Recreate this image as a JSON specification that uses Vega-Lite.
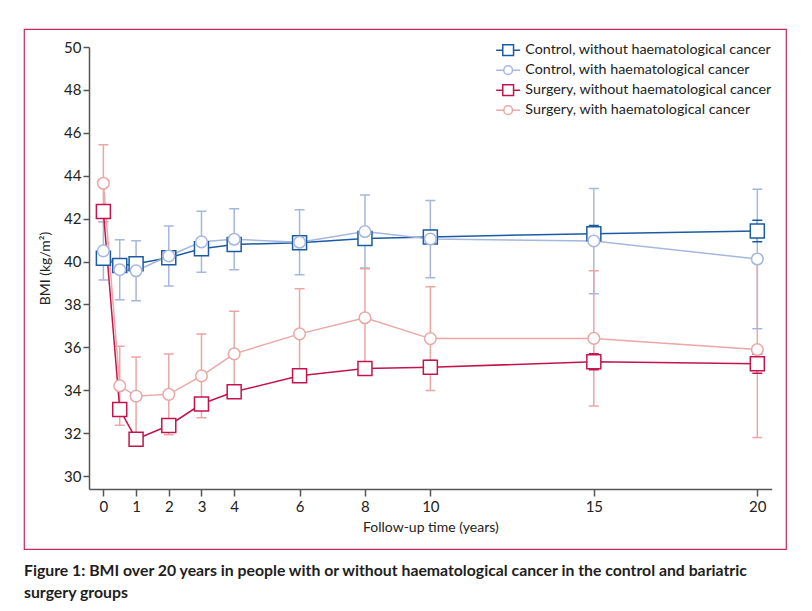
{
  "$schema": "https://vega.github.io/schema/vega-lite/v6.json",
  "autosize": "none",
  "padding": {"left": 24, "top": 29, "right": 26, "bottom": 62},
  "width": 762,
  "height": 520,
  "title": {
    "text": ["Figure 1: BMI over 20 years in people with or without haematological cancer in the control and bariatric", "surgery groups"],
    "orient": "bottom",
    "anchor": "start",
    "frame": "group",
    "offset": 15,
    "font": "Lato",
    "fontSize": 15.8,
    "fontWeight": "bold",
    "color": "#1e1e1e",
    "lineHeight": 22
  },
  "data": {
    "values": [
      {"series": "Control, without haematological cancer", "t": 0, "bmi": 40.15, "lo": 39.95, "hi": 40.35},
      {"series": "Control, without haematological cancer", "t": 0.5, "bmi": 39.82, "lo": 39.62, "hi": 40.02},
      {"series": "Control, without haematological cancer", "t": 1, "bmi": 39.9, "lo": 39.7, "hi": 40.1},
      {"series": "Control, without haematological cancer", "t": 2, "bmi": 40.18, "lo": 39.98, "hi": 40.38},
      {"series": "Control, without haematological cancer", "t": 3, "bmi": 40.6, "lo": 40.35, "hi": 40.85},
      {"series": "Control, without haematological cancer", "t": 4, "bmi": 40.8, "lo": 40.55, "hi": 41.05},
      {"series": "Control, without haematological cancer", "t": 6, "bmi": 40.88, "lo": 40.63, "hi": 41.13},
      {"series": "Control, without haematological cancer", "t": 8, "bmi": 41.08, "lo": 40.78, "hi": 41.38},
      {"series": "Control, without haematological cancer", "t": 10, "bmi": 41.15, "lo": 40.85, "hi": 41.45},
      {"series": "Control, without haematological cancer", "t": 15, "bmi": 41.3, "lo": 40.92, "hi": 41.68},
      {"series": "Control, without haematological cancer", "t": 20, "bmi": 41.42, "lo": 40.92, "hi": 41.92},
      {"series": "Control, with haematological cancer", "t": 0, "bmi": 40.5, "lo": 39.14, "hi": 41.86},
      {"series": "Control, with haematological cancer", "t": 0.5, "bmi": 39.62, "lo": 38.22, "hi": 41.02},
      {"series": "Control, with haematological cancer", "t": 1, "bmi": 39.57, "lo": 38.17, "hi": 40.97},
      {"series": "Control, with haematological cancer", "t": 2, "bmi": 40.26, "lo": 38.86, "hi": 41.66},
      {"series": "Control, with haematological cancer", "t": 3, "bmi": 40.92, "lo": 39.5, "hi": 42.34},
      {"series": "Control, with haematological cancer", "t": 4, "bmi": 41.04, "lo": 39.62, "hi": 42.46},
      {"series": "Control, with haematological cancer", "t": 6, "bmi": 40.9, "lo": 39.38, "hi": 42.42},
      {"series": "Control, with haematological cancer", "t": 8, "bmi": 41.4, "lo": 39.7, "hi": 43.1},
      {"series": "Control, with haematological cancer", "t": 10, "bmi": 41.05, "lo": 39.25, "hi": 42.85},
      {"series": "Control, with haematological cancer", "t": 15, "bmi": 40.96, "lo": 38.5, "hi": 43.4},
      {"series": "Control, with haematological cancer", "t": 20, "bmi": 40.12, "lo": 36.87, "hi": 43.37},
      {"series": "Surgery, without haematological cancer", "t": 0, "bmi": 42.33, "lo": 42.08, "hi": 42.58},
      {"series": "Surgery, without haematological cancer", "t": 0.5, "bmi": 33.11, "lo": 32.86, "hi": 33.36},
      {"series": "Surgery, without haematological cancer", "t": 1, "bmi": 31.72, "lo": 31.5, "hi": 31.94},
      {"series": "Surgery, without haematological cancer", "t": 2, "bmi": 32.36, "lo": 32.1, "hi": 32.62},
      {"series": "Surgery, without haematological cancer", "t": 3, "bmi": 33.36, "lo": 33.1, "hi": 33.62},
      {"series": "Surgery, without haematological cancer", "t": 4, "bmi": 33.93, "lo": 33.66, "hi": 34.2},
      {"series": "Surgery, without haematological cancer", "t": 6, "bmi": 34.68, "lo": 34.4, "hi": 34.96},
      {"series": "Surgery, without haematological cancer", "t": 8, "bmi": 35.02, "lo": 34.72, "hi": 35.32},
      {"series": "Surgery, without haematological cancer", "t": 10, "bmi": 35.07, "lo": 34.75, "hi": 35.39},
      {"series": "Surgery, without haematological cancer", "t": 15, "bmi": 35.33, "lo": 34.96, "hi": 35.7},
      {"series": "Surgery, without haematological cancer", "t": 20, "bmi": 35.24, "lo": 34.79, "hi": 35.69},
      {"series": "Surgery, with haematological cancer", "t": 0, "bmi": 43.65, "lo": 41.85, "hi": 45.45},
      {"series": "Surgery, with haematological cancer", "t": 0.5, "bmi": 34.21, "lo": 32.37, "hi": 36.05},
      {"series": "Surgery, with haematological cancer", "t": 1, "bmi": 33.73, "lo": 31.91, "hi": 35.55},
      {"series": "Surgery, with haematological cancer", "t": 2, "bmi": 33.81, "lo": 31.93, "hi": 35.69},
      {"series": "Surgery, with haematological cancer", "t": 3, "bmi": 34.67, "lo": 32.72, "hi": 36.62},
      {"series": "Surgery, with haematological cancer", "t": 4, "bmi": 35.7, "lo": 33.72, "hi": 37.68},
      {"series": "Surgery, with haematological cancer", "t": 6, "bmi": 36.63, "lo": 34.53, "hi": 38.73},
      {"series": "Surgery, with haematological cancer", "t": 8, "bmi": 37.38, "lo": 35.1, "hi": 39.66},
      {"series": "Surgery, with haematological cancer", "t": 10, "bmi": 36.41, "lo": 33.99, "hi": 38.83},
      {"series": "Surgery, with haematological cancer", "t": 15, "bmi": 36.42, "lo": 33.27, "hi": 39.57},
      {"series": "Surgery, with haematological cancer", "t": 20, "bmi": 35.9, "lo": 31.8, "hi": 40.0}
    ]
  },
  "encoding": {
    "x": {
      "field": "t",
      "type": "quantitative",
      "title": "Follow-up time (years)",
      "scale": {"domain": [-0.44, 20.44], "range": [65, 747.7], "nice": false, "zero": false},
      "axis": {"values": [0, 1, 2, 3, 4, 6, 8, 10, 15, 20], "offset": -60, "titlePadding": 6}
    },
    "y": {
      "field": "bmi",
      "type": "quantitative",
      "title": "BMI (kg/m²)",
      "scale": {"domain": [29.4, 50], "range": [460, 18], "nice": false, "zero": false},
      "axis": {"values": [30, 32, 34, 36, 38, 40, 42, 44, 46, 48, 50], "offset": -65, "titlePadding": 11}
    },
    "color": {
      "field": "series",
      "type": "nominal",
      "scale": {
        "domain": ["Control, without haematological cancer", "Control, with haematological cancer", "Surgery, without haematological cancer", "Surgery, with haematological cancer"],
        "range": ["#1b5ba3", "#a6b7de", "#c3154c", "#eaa7a5"]
      },
      "legend": {
        "orient": "none",
        "legendX": 477,
        "legendY": 14,
        "title": null,
        "padding": 0,
        "rowPadding": 3,
        "symbolSize": 144,
        "symbolStrokeWidth": 1.5,
        "symbolFillColor": "white",
        "symbolOpacity": 1,
        "labelOffset": 10,
        "labelFontSize": 14.3,
        "labelFont": "Lato",
        "labelColor": "#222222",
        "labelLimit": 400
      }
    }
  },
  "layer": [
    {
      "mark": {"type": "point", "filled": false, "fill": "white", "opacity": 0, "strokeWidth": 1.5},
      "encoding": {
        "shape": {
          "field": "series",
          "type": "nominal",
          "scale": {
            "domain": ["Control, without haematological cancer", "Control, with haematological cancer", "Surgery, without haematological cancer", "Surgery, with haematological cancer"],
            "range": [
              "M-2,0H-0.9M0.9,0H2M-0.9,-0.9H0.9V0.9H-0.9Z",
              "M-2,0H-0.72M0.72,0H2M0.72,0A0.72,0.72,0,1,1,-0.72,0A0.72,0.72,0,1,1,0.72,0Z",
              "M-2,0H-0.9M0.9,0H2M-0.9,-0.9H0.9V0.9H-0.9Z",
              "M-2,0H-0.72M0.72,0H2M0.72,0A0.72,0.72,0,1,1,-0.72,0A0.72,0.72,0,1,1,0.72,0Z"
            ]
          }
        }
      }
    },
    {
      "mark": {"type": "rule", "strokeWidth": 1.5},
      "encoding": {
        "y": {"field": "lo", "type": "quantitative"},
        "y2": {"field": "hi"}
      }
    },
    {
      "mark": {"type": "tick", "orient": "horizontal", "size": 10, "thickness": 0, "filled": false, "strokeWidth": 1.5, "opacity": 1},
      "encoding": {
        "y": {"field": "lo", "type": "quantitative"}
      }
    },
    {
      "mark": {"type": "tick", "orient": "horizontal", "size": 10, "thickness": 0, "filled": false, "strokeWidth": 1.5, "opacity": 1},
      "encoding": {
        "y": {"field": "hi", "type": "quantitative"}
      }
    },
    {
      "mark": {"type": "line", "strokeWidth": 1.5},
      "encoding": {}
    },
    {
      "transform": [{"filter": "test(/without/, datum.series)"}],
      "mark": {"type": "point", "shape": "square", "size": 196, "filled": false, "fill": "white", "opacity": 1, "strokeWidth": 1.5},
      "encoding": {}
    },
    {
      "transform": [{"filter": "!test(/without/, datum.series)"}],
      "mark": {"type": "point", "shape": "circle", "size": 135, "filled": false, "fill": "white", "opacity": 1, "strokeWidth": 1.5},
      "encoding": {}
    }
  ],
  "config": {
    "view": {"stroke": "#c82a5c", "strokeWidth": 1.2},
    "font": "Lato",
    "axis": {
      "grid": false,
      "domainColor": "#555555",
      "domainWidth": 1.5,
      "tickColor": "#555555",
      "tickWidth": 1.5,
      "labelFont": "Lato",
      "labelFontSize": 15,
      "labelColor": "#222222",
      "titleFont": "Lato",
      "titleFontSize": 14,
      "titleFontWeight": "normal",
      "titleColor": "#222222"
    },
    "axisX": {"tickSize": 7, "labelPadding": 3},
    "axisY": {"tickSize": 6, "labelPadding": 2}
  }
}
